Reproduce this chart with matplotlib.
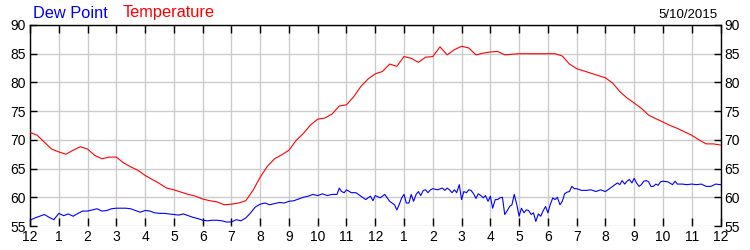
import matplotlib
matplotlib.use("Agg")
import matplotlib.pyplot as plt
import numpy as np

plt.rcParams["font.family"] = ["Liberation Sans", "DejaVu Sans"]

# temperature, one reading every 15 minutes from midnight to midnight
temp_values = [
    71.3, 70.8, 69.6, 68.4, 67.9, 67.5, 68.2, 68.8, 68.4, 67.3, 66.7, 67.0,
    67.0, 66.0, 65.3, 64.7, 63.8, 63.1, 62.4, 61.6, 61.3, 60.9, 60.5, 60.2,
    59.7, 59.4, 59.2, 58.7, 58.8, 59.0, 59.4, 61.2, 63.5, 65.4, 66.7, 67.4,
    68.2, 69.9, 71.1, 72.6, 73.6, 73.8, 74.5, 75.9, 76.1, 77.5, 79.3, 80.6,
    81.5, 81.9, 83.2, 82.8, 84.5, 84.2, 83.5, 84.4, 84.5, 86.2, 84.8, 85.7,
    86.3, 86.0, 84.8, 85.1, 85.3, 85.4, 84.8, 84.9, 85.0, 85.0, 85.0, 85.0,
    85.0, 85.0, 84.6, 83.2, 82.4, 82.0, 81.6, 81.2, 80.8, 79.9, 78.4, 77.3,
    76.4, 75.5, 74.3, 73.7, 73.1, 72.5, 72.0, 71.4, 70.8, 70.0, 69.3, 69.3,
    69.1,
]
temp_hours = np.arange(len(temp_values)) * 0.25

dew_hours = [
    0.0, 0.17, 0.33, 0.5, 0.67, 0.83, 1.0, 1.17, 1.33, 1.5, 1.67, 1.83,
    2.0, 2.17, 2.33, 2.5, 2.67, 2.83, 3.0, 3.17, 3.33, 3.5, 3.67, 3.83,
    4.0, 4.17, 4.33, 4.5, 4.67, 4.83, 5.0, 5.17, 5.33, 5.5, 5.67, 5.83,
    6.0, 6.17, 6.33, 6.5, 6.67, 6.83, 7.0, 7.17, 7.33, 7.5, 7.67, 7.83,
    8.0, 8.17, 8.33, 8.5, 8.67, 8.83, 9.0, 9.17, 9.33, 9.5, 9.67, 9.83,
    10.0, 10.17, 10.33, 10.5, 10.67, 10.75, 10.83, 10.92, 11.0, 11.17, 11.33, 11.5,
    11.67, 11.83, 11.92, 12.0, 12.17, 12.33, 12.5, 12.67, 12.75, 12.83, 12.92, 13.0,
    13.08, 13.17, 13.25, 13.33, 13.42, 13.5, 13.58, 13.67, 13.75, 13.83, 13.92, 14.0,
    14.17, 14.33, 14.42, 14.5, 14.58, 14.67, 14.75, 14.83, 14.92, 15.0, 15.08, 15.17,
    15.25, 15.33, 15.42, 15.5, 15.58, 15.67, 15.75, 15.83, 15.92, 16.0, 16.08, 16.17,
    16.25, 16.33, 16.42, 16.5, 16.58, 16.67, 16.75, 16.83, 16.92, 17.0, 17.08, 17.17,
    17.25, 17.33, 17.42, 17.5, 17.58, 17.67, 17.75, 17.83, 17.92, 18.0, 18.08, 18.17,
    18.25, 18.33, 18.42, 18.5, 18.58, 18.67, 18.75, 18.83, 18.92, 19.0, 19.17, 19.33,
    19.5, 19.67, 19.83, 20.0, 20.17, 20.33, 20.42, 20.5, 20.58, 20.67, 20.75, 20.83,
    20.92, 21.0, 21.08, 21.17, 21.25, 21.33, 21.42, 21.5, 21.58, 21.67, 21.75, 21.83,
    21.92, 22.0, 22.17, 22.33, 22.42, 22.5, 22.67, 22.83, 23.0, 23.17, 23.33, 23.5,
    23.67, 23.83, 24.0,
]
dew_values = [
    56.0, 56.4, 56.7, 57.0, 56.5, 56.1, 57.2, 56.8, 57.1, 56.7, 57.2, 57.6,
    57.6, 57.8, 58.0, 57.6, 57.7, 58.0, 58.1, 58.1, 58.1, 58.0, 57.7, 57.4,
    57.7, 57.6, 57.3, 57.2, 57.2, 57.1, 57.0, 56.9, 57.1, 56.8, 56.5, 56.3,
    56.0, 55.9, 56.0, 56.0, 55.9, 55.7, 55.7, 56.1, 55.9, 56.4, 57.3, 58.3,
    58.8, 59.0, 58.7, 58.9, 59.1, 59.0, 59.3, 59.4, 59.7, 60.0, 60.2, 60.5,
    60.3, 60.6, 60.3, 60.5, 60.5, 61.6, 61.0, 60.8, 61.3, 60.8, 60.8, 60.2,
    59.6, 60.2, 59.4, 60.3, 59.9, 60.5, 59.3, 58.7, 57.8, 58.7, 59.9, 60.5,
    59.0, 59.0, 60.5, 59.3, 60.5, 61.0, 60.3, 61.2, 61.3, 60.8, 61.3, 61.5,
    61.3, 61.6, 61.2, 61.6, 61.3, 60.8, 61.3, 60.8, 62.2, 59.6, 61.0, 60.8,
    61.3, 61.2, 60.6, 59.8, 60.6, 60.3, 59.9, 60.3, 59.3, 60.2, 58.1, 59.6,
    59.6, 59.9, 60.0, 57.0, 57.6, 58.4, 58.7, 60.5, 58.7, 56.7, 58.1, 57.3,
    57.8, 57.7, 57.0, 57.3, 55.8, 57.1, 56.7, 57.6, 58.4, 57.3, 58.7, 59.9,
    59.6, 60.0, 58.7, 59.3, 60.6, 60.9, 61.0, 61.9, 61.5, 61.5, 61.2, 61.2,
    61.3, 61.0, 61.3, 61.0, 61.6, 62.2, 62.5, 62.2, 62.9, 62.3, 62.8, 63.1,
    62.5, 63.3, 62.5, 61.9, 62.2, 62.8, 62.9, 62.7, 61.9, 61.9, 62.3, 62.1,
    62.7, 62.8, 62.7, 62.2, 62.8, 62.3, 62.3, 62.2, 62.3, 62.2, 62.3, 61.9,
    61.9, 62.3, 62.2,
]

hour_labels = ["12", "1", "2", "3", "4", "5", "6", "7", "8", "9", "10", "11",
               "12", "1", "2", "3", "4", "5", "6", "7", "8", "9", "10", "11", "12"]
y_ticks = [55, 60, 65, 70, 75, 80, 85, 90]
date_text = "5/10/2015"

fig = plt.figure(figsize=(7.5, 2.5), dpi=100)
ax = fig.add_axes([0.04, 0.096, 0.9207, 0.804])

ax.plot(temp_hours, temp_values, color="#ff0000", lw=0.8, zorder=3)
ax.plot(dew_hours, dew_values, color="#0000ff", lw=0.8, zorder=3)

ax.set_xlim(0, 24)
ax.set_ylim(55, 90)
ax.set_xticks(range(25))
ax.set_xticklabels(hour_labels)
ax.set_yticks(y_ticks)
ax.grid(True, color="#cccccc", lw=1.0)
ax.set_axisbelow(True)

ax.spines["bottom"].set_visible(False)
for side in ["left", "right", "top"]:
    ax.spines[side].set_linewidth(1.0)

ax.tick_params(axis="x", which="both", direction="in", length=6, width=1,
               top=True, bottom=True, labelsize=10, pad=3)
ax.tick_params(axis="y", direction="in", length=5, width=1,
               left=True, right=True, labelleft=True, labelright=True,
               labelsize=10, pad=3)

fig.text(0.044, 0.93, "Dew Point", color="#0000ff", fontsize=11.8, va="baseline")
fig.text(0.164, 0.93, "Temperature", color="#ff0000", fontsize=11.8, va="baseline")
fig.text(0.957, 0.93, date_text, color="black", fontsize=9.5, ha="right", va="baseline")

fig.savefig("out.png", dpi=100)
